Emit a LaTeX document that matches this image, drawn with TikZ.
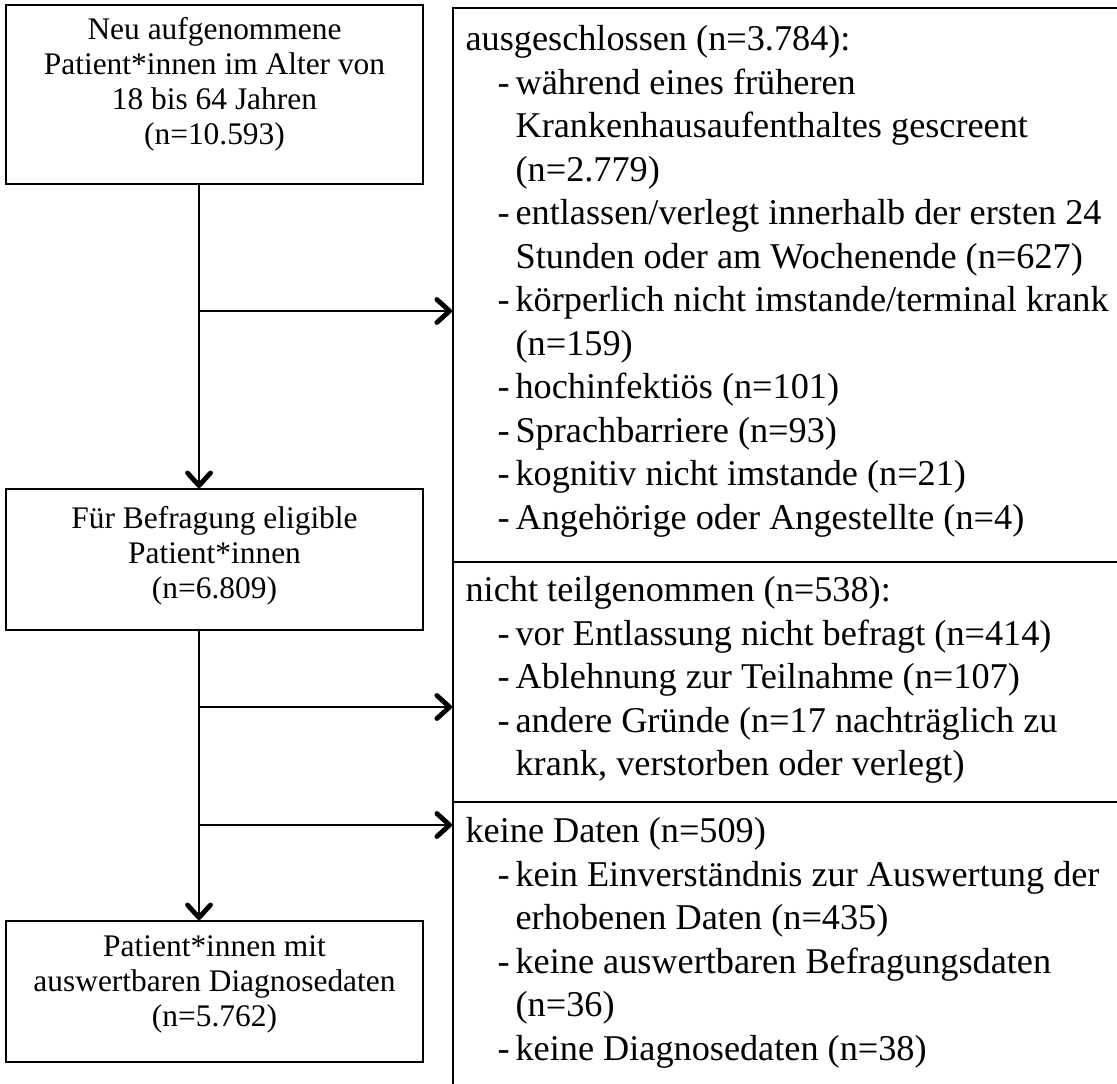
\documentclass[tikz,border=0pt]{standalone}
\usepackage{fontspec}
\setmainfont{Liberation Serif}
\usetikzlibrary{arrows.meta}
\newcommand\dashitem[1]{\hspace*{10.6pt}\makebox[5.95pt][l]{-}#1}
\newcommand\contitem[1]{\hspace*{16.55pt}#1}
\begin{document}
\begin{tikzpicture}[x=0.331pt,y=-0.331pt,
  lbox/.style={draw,line width=0.65pt,inner sep=0,minimum width=138pt},
  rbox/.style={draw,line width=0.65pt,inner sep=0,minimum width=227.4pt},
  ltext/.style={align=center,font=\fontsize{10.4}{11.6}\selectfont,inner sep=0},
  rtext/.style={align=left,font=\fontsize{12}{14.4}\selectfont,inner sep=0,anchor=north west},
  flow/.style={line width=0.65pt,-{Straight Barb[length=4.2pt,width=7.6pt,line width=1.6pt,round]}},
]
\useasboundingbox (0,0) rectangle (1117,1083);
% left boxes
\node[lbox,minimum height=59.25pt] (box1) at (214.5,94.5) {};
\node[lbox,minimum height=46.67pt] (box2) at (214.5,559.5) {};
\node[lbox,minimum height=46.67pt] (box3) at (214.5,991.5) {};
\node[ltext] (t1) at (214.5,84) {Neu aufgenommene\\Patient*innen im Alter von\\18 bis 64 Jahren\\(n=10.593)};
\node[ltext] (t2) at (214.5,556) {Für Befragung eligible\\Patient*innen\\(n=6.809)};
\node[ltext] (t3) at (214.5,984) {Patient*innen mit\\auswertbaren Diagnosedaten\\(n=5.762)};
% right boxes
\node[rbox,minimum height=183.4pt] (ex) at (796.5,285) {};
\node[rbox,minimum height=79.44pt] (np) at (796.5,682) {};
\node[rbox,minimum height=98.64pt] (nd) at (796.5,951) {};
\node[rtext] (tex) at (465,25) {ausgeschlossen (n=3.784):\\
\dashitem{während eines früheren}\\
\contitem{Krankenhausaufenthaltes gescreent}\\
\contitem{(n=2.779)}\\
\dashitem{entlassen/verlegt innerhalb der ersten 24}\\
\contitem{Stunden oder am Wochenende (n=627)}\\
\dashitem{körperlich nicht imstande/terminal krank}\\
\contitem{(n=159)}\\
\dashitem{hochinfektiös (n=101)}\\
\dashitem{Sprachbarriere (n=93)}\\
\dashitem{kognitiv nicht imstande (n=21)}\\
\dashitem{Angehörige oder Angestellte (n=4)}};
\node[rtext] (tnp) at (465,576) {nicht teilgenommen (n=538):\\
\dashitem{vor Entlassung nicht befragt (n=414)}\\
\dashitem{Ablehnung zur Teilnahme (n=107)}\\
\dashitem{andere Gründe (n=17 nachträglich zu}\\
\contitem{krank, verstorben oder verlegt)}};
\node[rtext] (tnd) at (465,817) {keine Daten (n=509)\\
\dashitem{kein Einverständnis zur Auswertung der}\\
\contitem{erhobenen Daten (n=435)}\\
\dashitem{keine auswertbaren Befragungsdaten}\\
\contitem{(n=36)}\\
\dashitem{keine Diagnosedaten (n=38)}};
% connectors
\coordinate (v) at (199,0);
\draw[flow] (box1.south -| v) -- (box2.north -| v);
\draw[flow] (box2.south -| v) -- (box3.north -| v);
\coordinate (j1) at (199,311);
\coordinate (j2) at (199,707);
\coordinate (j3) at (199,825);
\draw[flow] (j1) -- (j1 -| ex.west);
\draw[flow] (j2) -- (j2 -| np.west);
\draw[flow] (j3) -- (j3 -| nd.west);
\end{tikzpicture}
\end{document}
